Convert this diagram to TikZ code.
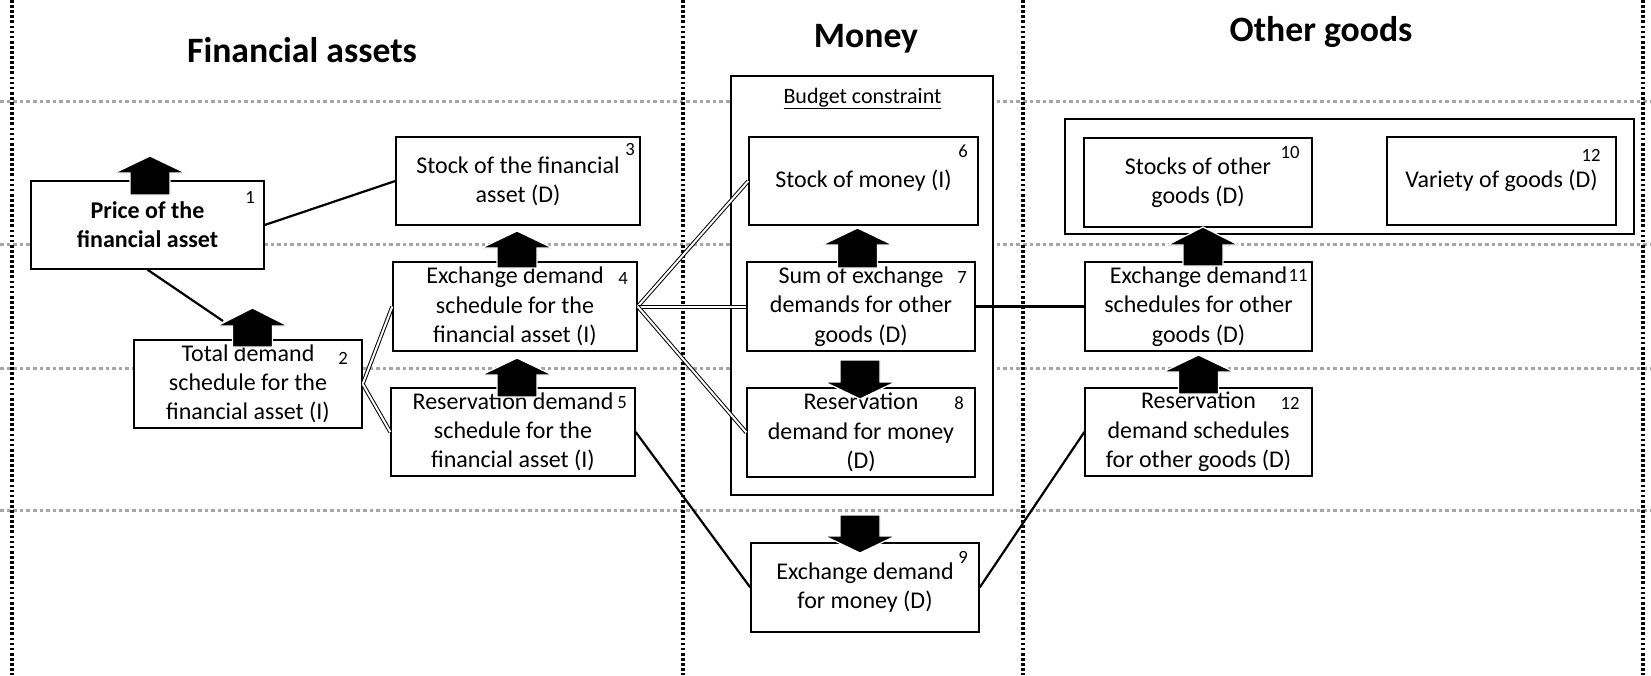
\documentclass[tikz,border=0pt]{standalone}
\usepackage{fontspec}
\setmainfont{Carlito}
\usetikzlibrary{calc}
\begin{document}
\begin{tikzpicture}[x=1pt,y=-1pt,
  box/.style={draw=black, line width=1.4pt, fill=white, inner sep=0pt, align=center, font=\fontsize{24}{29.3}\selectfont},
  num/.style={inner sep=0pt, font=\fontsize{18.7}{20}\selectfont},
  title/.style={inner sep=0pt, anchor=base, font=\fontsize{35.7}{40}\selectfont\bfseries},
  vdot/.style={line width=3.2pt, dash pattern=on 2.7pt off 2.4pt},
  hdot/.style={draw=black!35, line width=3pt, dash pattern=on 3.6pt off 3pt},
  link/.style={line width=2.2pt},
  dlink/.style={double, double distance=2pt, line width=1pt},
  blk/.style={fill=black, draw=white, line width=1.2pt},
  pics/uparr/.style 2 args={code={
    \path[blk] (0,0) -- (35.5,#1) -- (20,#1) -- (20,#2) -- (-20,#2) -- (-20,#1) -- (-35.5,#1) -- cycle;}}
]
\useasboundingbox (0,0) rectangle (1651,675);
\fill[white] (0,0) rectangle (1651,675);

% grid of dotted lines
\foreach \yy in {101,244,368,510} \draw[hdot] (0,\yy) -- (1651,\yy);
\foreach \xx in {12,683,1023,1643} \draw[vdot] (\xx,0) -- (\xx,675);

% titles
\node[title] (t1) at (302,62) {Financial assets};
\node[title] (t2) at (866,47) {Money};
\node[title] (t3) at (1321,41) {Other goods};

% group boxes
\node[box, minimum width=262pt, minimum height=419pt] (budget) at (862,285.5) {};
\node[inner sep=0pt, anchor=base, font=\fontsize{22}{24}\selectfont] (bc) at (862.5,103) {\underline{Budget constraint}};
\node[box, minimum width=569pt, minimum height=115pt] (goods) at (1349.5,176.5) {};

% boxes
\node[box, minimum width=233pt, minimum height=88pt, font=\fontsize{24}{29.3}\selectfont\bfseries] (b1) at (147.5,225) {Price of the\\financial asset};
\node[box, minimum width=228pt, minimum height=88pt] (b2) at (248,384) {Total demand\\schedule for the\\financial asset (I)};
\node[box, minimum width=244pt, minimum height=88pt] (b3) at (518,181) {Stock of the financial\\asset (D)};
\node[box, minimum width=244pt, minimum height=89pt] (b4) at (515,306.5) {Exchange demand\\schedule for the\\financial asset (I)};
\node[box, minimum width=244pt, minimum height=88pt] (b5) at (513,432) {Reservation demand\\schedule for the\\financial asset (I)};
\node[box, minimum width=229pt, minimum height=88pt] (b6) at (863.5,181) {Stock of money (I)};
\node[box, minimum width=228pt, minimum height=89pt] (b7) at (861,306.5) {Sum of exchange\\demands for other\\goods (D)};
\node[box, minimum width=228pt, minimum height=89pt] (b8) at (861,432.5) {Reservation\\demand for money\\(D)};
\node[box, minimum width=228pt, minimum height=89pt] (b9) at (865,587.5) {Exchange demand\\for money (D)};
\node[box, minimum width=228pt, minimum height=89pt] (b10) at (1198,182.5) {Stocks of other\\goods (D)};
\node[box, minimum width=229pt, minimum height=88pt] (b12a) at (1501.5,181) {Variety of goods (D)};
\node[box, minimum width=227pt, minimum height=89pt] (b11) at (1198.5,306.5) {Exchange demand\\schedules for other\\goods (D)};
\node[box, minimum width=227pt, minimum height=88pt] (b12b) at (1198.5,432) {Reservation\\demand schedules\\for other goods (D)};

% connectors
\coordinate (c2) at (223,321);
\draw[link] (b1.east) -- (b3.west);
\draw[link] (b1.south) -- (c2);
\draw[dlink] (b2.east) -- (b4.west);
\draw[dlink] (b2.east) -- (b5.west);
\draw[dlink] (b4.east) -- (b6.west);
\draw[dlink] (b4.east) -- (b7.west);
\draw[dlink] (b4.east) -- (b8.west);
\draw[link] (b5.east) -- (b9.west);
\draw[link] (b9.east) -- (b12b.west);
\draw[link] (b7.east) -- (b11.west);

% numbers
\node[num] (n1) at (250,197) {1};
\node[num] (n2) at (343,358) {2};
\node[num] (n3) at (630,149) {3};
\node[num] (n4) at (623,278) {4};
\node[num] (n5) at (622,403) {5};
\node[num] (n6) at (963,151) {6};
\node[num] (n7) at (962,277) {7};
\node[num] (n8) at (959,403) {8};
\node[num] (n9) at (963,557) {9};
\node[num] (n10) at (1290,152) {10};
\node[num] (n11) at (1298,275) {11};
\node[num] (n12a) at (1591,155) {12};
\node[num] (n12b) at (1290,403) {12};

% block arrows
\pic at (150,156) {uparr={17}{39}};
\pic at (252.5,308) {uparr={18}{39}};
\pic at (517,231) {uparr={17}{37}};
\pic at (517,358) {uparr={17}{39}};
\pic at (857.5,228) {uparr={17}{40}};
\pic at (1203,227) {uparr={18}{39}};
\pic at (1198.5,355) {uparr={17}{39}};
\pic at (860,399) {uparr={-17}{-39}};
\pic at (860,553) {uparr={-17}{-38}};
\end{tikzpicture}
\end{document}
